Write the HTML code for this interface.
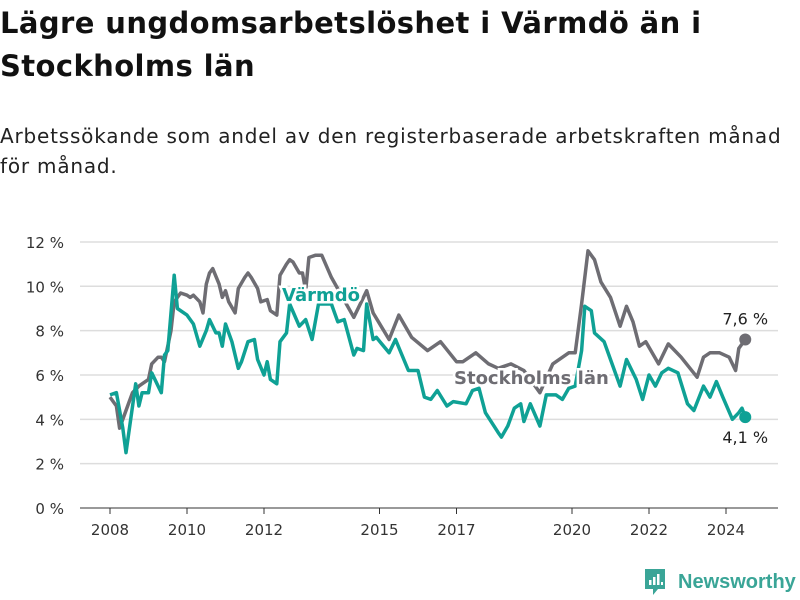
<!DOCTYPE html>
<html><head><meta charset="utf-8"><style>
body{margin:0;background:#fff;font-family:"DejaVu Sans","Liberation Sans",sans-serif;}
#wrap{position:relative;width:800px;height:600px;overflow:hidden;}
h1{position:absolute;left:0;top:2px;margin:0;font-size:29px;line-height:43px;font-weight:bold;color:#111;white-space:nowrap;letter-spacing:0.4px;}
.sub{position:absolute;left:0;top:121px;margin:0;font-size:20px;line-height:30px;color:#222;white-space:nowrap;letter-spacing:0.8px;}
</style></head><body><div id="wrap">
<h1>Lägre ungdomsarbetslöshet i Värmdö än i<br>Stockholms län</h1>
<p class="sub">Arbetssökande som andel av den registerbaserade arbetskraften månad<br>för månad.</p>
<svg id="chart" width="800" height="600" style="position:absolute;left:0;top:0"></svg>
</div>
<script>
const yTicks=[0,2,4,6,8,10,12];
const yearTicks=[2008,2010,2012,2015,2017,2020,2022,2024];
const stockMonths=[0,2,3,5,7,9,12,13,15,16,17,19,20,22,24,25,26,28,29,30,31,32,34,35,36,37,39,40,42,43,44,46,47,49,50,52,53,55,56,57,59,60,61,62,64,66,69,76,80,82,87,90,94,99,103,108,110,114,118,121,125,129,134,138,143,145,147,149,151,153,156,159,161,163,165,167,171,173,174,178,183,185,187,190,193,195,196,198];
const stockValues=[5.0,4.6,3.6,4.4,5.2,5.5,5.8,6.5,6.8,6.8,6.6,8.0,9.3,9.7,9.6,9.5,9.6,9.3,8.8,10.1,10.6,10.8,10.1,9.5,9.8,9.3,8.8,9.9,10.4,10.6,10.4,9.9,9.3,9.4,8.9,8.7,10.5,11.0,11.2,11.1,10.6,10.6,9.8,11.3,11.4,11.4,10.4,8.6,9.8,8.8,7.6,8.7,7.7,7.1,7.5,6.6,6.6,7.0,6.5,6.3,6.5,6.2,5.2,6.5,7.0,7.0,9.2,11.6,11.2,10.2,9.5,8.2,9.1,8.4,7.3,7.5,6.5,7.1,7.4,6.8,5.9,6.8,7.0,7.0,6.8,6.2,7.2,7.6];
const varmMonths=[0,2,4,5,8,9,10,12,13,16,17,18,20,21,24,26,28,30,31,33,34,35,36,38,40,41,43,45,46,48,49,50,52,53,55,56,59,61,63,65,69,71,73,76,77,79,80,82,83,87,89,93,96,98,100,102,105,107,111,113,115,117,121,122,124,126,128,129,131,134,136,139,141,143,145,147,148,150,151,154,156,159,161,164,166,168,170,172,174,177,180,182,185,187,189,191,194,196,197,198];
const varmValues=[5.1,5.2,3.6,2.5,5.6,4.6,5.2,5.2,6.1,5.2,6.9,7.1,10.5,9.0,8.7,8.3,7.3,8.0,8.5,7.9,7.9,7.3,8.3,7.5,6.3,6.6,7.5,7.6,6.7,6.0,6.6,5.8,5.6,7.5,7.9,9.2,8.2,8.5,7.6,9.2,9.2,8.4,8.5,6.9,7.2,7.1,9.2,7.6,7.7,7.0,7.6,6.2,6.2,5.0,4.9,5.3,4.6,4.8,4.7,5.3,5.4,4.3,3.4,3.2,3.7,4.5,4.7,3.9,4.7,3.7,5.1,5.1,4.9,5.4,5.5,7.1,9.1,8.9,7.9,7.5,6.7,5.5,6.7,5.8,4.9,6.0,5.5,6.1,6.3,6.1,4.7,4.4,5.5,5.0,5.7,5.0,4.0,4.3,4.5,4.1];
const NS="http://www.w3.org/2000/svg";
const svg=document.getElementById('chart');
const X0=110,PXM=38.5/12,Y0=508,PXV=22.17;
function xm(m){return X0+m*PXM;}
function xy(yr){return X0+(yr-2008)*38.5;}
function yv(v){return Y0-v*PXV;}
function mk(t,a,txt){const e=document.createElementNS(NS,t);for(const k in a)e.setAttribute(k,a[k]);if(txt!==undefined)e.textContent=txt;svg.appendChild(e);return e;}
yTicks.forEach(v=>{
 const g=mk('line',{x1:80,x2:778,y1:yv(v),y2:yv(v),stroke:v===0?'#333':'#ddd','stroke-width':v===0?1:1.5});
 
 
 const t=mk('text',{x:64,y:yv(v)+6,'text-anchor':'end','font-size':15,fill:'#333'},v+' %');
 
 
});
yearTicks.forEach(yr=>{
 const l=mk('line',{x1:xy(yr),x2:xy(yr),y1:Y0,y2:Y0+6,stroke:'#333','stroke-width':1});
 
 
 const t=mk('text',{x:xy(yr),y:Y0+27,'text-anchor':'middle','font-size':15,fill:'#333'},String(yr));
 
 
});
function line(ms,vs,col,name){
 const d=ms.map((m,i)=>(i?'L':'M')+xm(m).toFixed(1)+','+yv(vs[i]).toFixed(1)).join('');
 const p=mk('path',{d:d,fill:'none',stroke:col,'stroke-width':3.5,'stroke-linejoin':'round'});
 
 
 const n=ms.length-1;
 const c=mk('circle',{cx:xm(ms[n]),cy:yv(vs[n]),r:6,fill:col});
 
 
}
line(stockMonths,stockValues,'#6e6d73','stockholm');
line(varmMonths,varmValues,'#0fa195','varmdo');
function lab(x,y,txt,col,name){
 const t=mk('text',{x:x,y:y,'font-size':18,'font-weight':'bold',fill:col,stroke:'#fff','stroke-width':5,'paint-order':'stroke'},txt);
 
 
}
lab(282,301,'Värmdö','#0fa195','varmdo-series-label');
lab(454,384,'Stockholms län','#6e6d73','stockholm-series-label');
const nS=stockValues.length-1,nV=varmValues.length-1;
const e1=mk('text',{x:xm(stockMonths[nS]),y:yv(stockValues[nS])-15,'text-anchor':'middle','font-size':16,fill:'#222'},stockValues[nS].toFixed(1).replace('.',',')+' %');


const e2=mk('text',{x:xm(varmMonths[nV]),y:yv(varmValues[nV])+26,'text-anchor':'middle','font-size':16,fill:'#222'},varmValues[nV].toFixed(1).replace('.',',')+' %');


</script>
<svg width="160" height="34" style="position:absolute;left:643px;top:566px">
<path d="M2 3h20v20h-7l-5 6v-6H2z" fill="#3aa597"/>
<rect x="6" y="14" width="2.5" height="5" fill="#fff"/><rect x="10" y="11" width="2.5" height="8" fill="#fff"/><rect x="14" y="8" width="2.5" height="11" fill="#fff"/><rect x="18" y="16" width="2" height="3" fill="#fff"/>
<text x="35" y="22" font-size="20" font-weight="bold" fill="#3aa597" font-family="Liberation Sans, sans-serif">Newsworthy</text>
</svg>
</body></html>
